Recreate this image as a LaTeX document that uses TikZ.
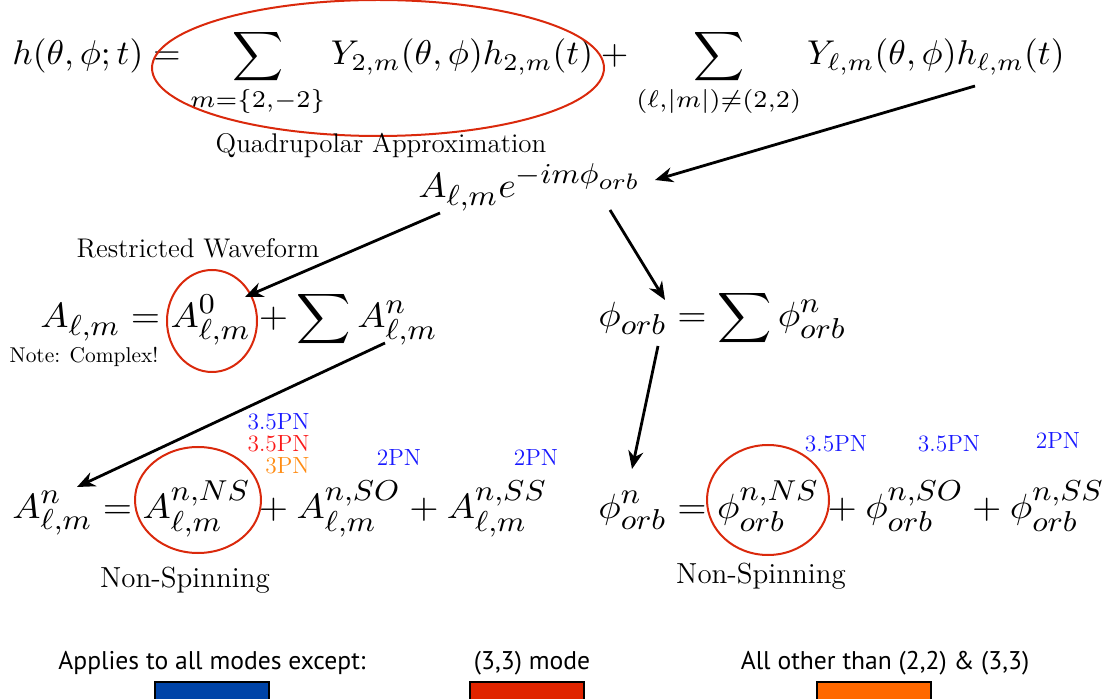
\documentclass[tikz,border=0pt]{standalone}
\usepackage{amsmath}
\usepackage{graphicx}
\usepackage{fontspec}
\setsansfont{PT Sans}
\usepackage{tikz}
\usetikzlibrary{arrows.meta, positioning, calc, shapes.geometric}
\DeclareMathSizes{10.95}{10.95}{9}{7}
\newcommand{\topmath}[1]{\scalebox{1.77}[1.72]{\fontsize{10}{12}\selectfont$\displaystyle #1$}}
\newcommand{\rowmath}[1]{\scalebox{1.72}[1.6]{\fontsize{10.95}{13}\selectfont$\displaystyle #1$}}
\definecolor{ringred}{RGB}{218,41,12}
\definecolor{pnblue}{RGB}{25,25,255}
\definecolor{pnred}{RGB}{250,25,25}
\definecolor{pnorange}{RGB}{255,140,20}
\definecolor{keyblue}{RGB}{0,68,168}
\definecolor{keyred}{RGB}{224,36,0}
\definecolor{keyorange}{RGB}{255,104,0}
\tikzset{
  eqn/.style={inner sep=0pt, anchor=base west},
  note/.style={inner sep=0pt, font=\fontsize{13.5}{16}\selectfont},
  pn/.style={inner sep=0pt, font=\fontsize{11.7}{14}\selectfont},
  ring/.style={ellipse, draw=ringred, line width=1pt, inner sep=0pt},
  arrow/.style={-{Stealth[length=9pt, width=7.5pt]}, line width=1.4pt, color=black},
  keytext/.style={inner sep=0pt, font=\sffamily\fontsize{12.8}{15}\selectfont},
  keybox/.style={draw=black, line width=0.6pt, minimum width=57pt,
    minimum height=10pt, inner sep=0pt}
}

\begin{document}
\begin{tikzpicture}[x=0.5pt, y=-0.5pt]
  \clip (0,0) rectangle (1118,699);

  % Mode sum
  \node[eqn] (modesum) at (12,65) {\topmath{h(\theta,\phi;t) = \sum_{m=\{2,-2\}} Y_{2,m}(\theta,\phi)h_{2,m}(t) + \sum_{(\ell,|m|)\neq(2,2)} Y_{\ell,m}(\theta,\phi)h_{\ell,m}(t)}};
  \node[ring, minimum width=226pt, minimum height=68pt] (quadring) at (378,68) {};
  \node[note] (quadlabel) at (381,145) {Quadrupolar Approximation};

  % Amplitude and phase
  \node[eqn] (modeamp) at (418,198) {\rowmath{A_{\ell,m}e^{-im\phi_{orb}}}};

  % Amplitude expansion
  \node[eqn] (ampsplit) at (40,328) {\rowmath{A_{\ell,m} = A^0_{\ell,m} + \sum A^n_{\ell,m}}};
  \node[ring, minimum width=45pt, minimum height=51pt] (restring) at (212,321) {};
  \node[note] (restlabel) at (198,248) {Restricted Waveform};
  \node[note, font=\fontsize{10.7}{12}\selectfont] (complexnote) at (84,357) {Note: Complex!};

  % Phase expansion
  \node[eqn] (phasesplit) at (598,327) {\rowmath{\phi_{orb} = \sum \phi^n_{orb}}};

  % Spin split, amplitude
  \node[eqn] (ampterms) at (12,518) {\rowmath{A^n_{\ell,m} = A^{n,NS}_{\ell,m} + A^{n,SO}_{\ell,m} + A^{n,SS}_{\ell,m}}};
  \node[ring, minimum width=63pt, minimum height=53pt] (ampns) at (198,500) {};
  \node[note, font=\fontsize{14.5}{17}\selectfont] (amplabel) at (185,580) {Non-Spinning};
  \node[pn, text=pnblue, anchor=east] (nsblue) at (310,422) {3.5PN};
  \node[pn, text=pnred, anchor=east] (nsred) at (310,444) {3.5PN};
  \node[pn, text=pnorange, anchor=east] (nsorange) at (310,466) {3PN};
  \node[pn, text=pnblue] (soamp) at (399,458) {2PN};
  \node[pn, text=pnblue] (ssamp) at (536,458) {2PN};

  % Spin split, phase
  \node[eqn] (phaseterms) at (598,518) {\rowmath{\phi^n_{orb} = \phi^{n,NS}_{orb} + \phi^{n,SO}_{orb} + \phi^{n,SS}_{orb}}};
  \node[ring, minimum width=61pt, minimum height=55pt] (phasens) at (768,500) {};
  \node[note, font=\fontsize{14.5}{17}\selectfont] (phaselabel) at (761,576) {Non-Spinning};
  \node[pn, text=pnblue] (nsphase) at (836,444) {3.5PN};
  \node[pn, text=pnblue] (sophase) at (949,444) {3.5PN};
  \node[pn, text=pnblue] (ssphase) at (1058,441) {2PN};

  % Arrow ends
  \coordinate (hlm) at (975,86);
  \coordinate (expend) at (655,180);
  \coordinate (ampstart) at (440,213);
  \coordinate (restend) at (245,297);
  \coordinate (phasestart) at (610,210);
  \coordinate (phaseend) at (665,300);
  \coordinate (sumamp) at (385,343);
  \coordinate (ampnend) at (77,487);
  \coordinate (sumphase) at (658,346);
  \coordinate (phasenend) at (632,469);

  \draw[arrow] (hlm) -- (expend);
  \draw[arrow] (ampstart) -- (restend);
  \draw[arrow] (phasestart) -- (phaseend);
  \draw[arrow] (sumamp) -- (ampnend);
  \draw[arrow] (sumphase) -- (phasenend);

  % Legend
  \node[keytext] (keyall) at (212,663) {Applies to all modes except:};
  \node[keybox, fill=keyblue] (boxall) at (212,692) {};
  \node[keytext] (keythree) at (532,663) {(3,3) mode};
  \node[keybox, fill=keyred] (boxthree) at (527,692) {};
  \node[keytext] (keyother) at (885,663) {All other than (2,2) \& (3,3)};
  \node[keybox, fill=keyorange] (boxother) at (874,692) {};
\end{tikzpicture}
\end{document}
